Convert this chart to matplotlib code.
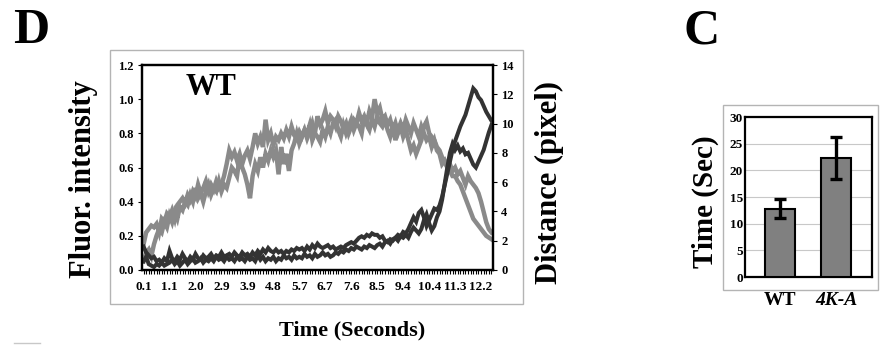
import matplotlib
matplotlib.use("Agg")
import matplotlib.pyplot as plt
from matplotlib.patches import Rectangle
from matplotlib.lines import Line2D
import numpy as np

# ---------------- data ----------------
time_labels = ["0.1", "1.1", "2.0", "2.9", "3.9", "4.8", "5.7", "6.7", "7.6",
               "8.5", "9.4", "10.4", "11.3", "12.2"]

fluor_1 = [0.15, 0.22, 0.24, 0.26, 0.25, 0.27, 0.22, 0.30, 0.28, 0.33,
           0.31, 0.35, 0.30, 0.38, 0.40, 0.42, 0.39, 0.44, 0.41, 0.46,
           0.43, 0.50, 0.45, 0.48, 0.52, 0.46, 0.50, 0.47, 0.52, 0.48,
           0.50, 0.55, 0.62, 0.70, 0.66, 0.69, 0.64, 0.68, 0.62, 0.67,
           0.70, 0.65, 0.72, 0.80, 0.74, 0.78, 0.72, 0.88, 0.76, 0.80,
           0.73, 0.78, 0.76, 0.80, 0.77, 0.82, 0.78, 0.84, 0.79, 0.77,
           0.81, 0.78, 0.82, 0.80, 0.85, 0.76, 0.80, 0.90, 0.85, 0.88,
           0.93, 0.86, 0.90, 0.88, 0.84, 0.90, 0.87, 0.83, 0.86, 0.80,
           0.84, 0.88, 0.86, 0.92, 0.87, 0.90, 0.86, 0.93, 0.89, 1.00,
           0.92, 0.95, 0.88, 0.90, 0.85, 0.88, 0.82, 0.86, 0.80, 0.84,
           0.78, 0.82, 0.76, 0.70, 0.73, 0.68, 0.72, 0.76, 0.84, 0.87,
           0.80, 0.78, 0.76, 0.72, 0.70, 0.66, 0.64, 0.60, 0.62, 0.58,
           0.60, 0.56, 0.58, 0.54, 0.50, 0.55, 0.52, 0.50, 0.48, 0.45,
           0.40, 0.34, 0.28, 0.24, 0.22]

fluor_2 = [0.05, 0.10, 0.12, 0.08, 0.15, 0.20, 0.24, 0.22, 0.28, 0.25,
           0.32, 0.28, 0.34, 0.30, 0.37, 0.35, 0.40, 0.38, 0.44, 0.40,
           0.48, 0.42, 0.45, 0.40, 0.46, 0.50, 0.44, 0.48, 0.46, 0.52,
           0.46, 0.50, 0.48, 0.54, 0.60, 0.58, 0.55, 0.66, 0.60, 0.56,
           0.50, 0.42, 0.55, 0.62, 0.58, 0.66, 0.60, 0.68, 0.64, 0.70,
           0.66, 0.70, 0.56, 0.72, 0.62, 0.68, 0.58, 0.70, 0.74, 0.80,
           0.74, 0.78, 0.82, 0.77, 0.81, 0.86, 0.80, 0.78, 0.75, 0.82,
           0.78, 0.84, 0.80, 0.86, 0.88, 0.82, 0.78, 0.85, 0.80, 0.84,
           0.88, 0.82, 0.86, 0.84, 0.80, 0.90, 0.85, 0.82, 0.88, 0.84,
           0.90, 0.86, 0.84, 0.88, 0.82, 0.78, 0.84, 0.76, 0.82, 0.86,
           0.82, 0.88, 0.84, 0.80, 0.86, 0.82, 0.78, 0.84, 0.80, 0.76,
           0.78, 0.72, 0.76, 0.70, 0.68, 0.62, 0.64, 0.60, 0.58, 0.55,
           0.55, 0.52, 0.50, 0.46, 0.42, 0.38, 0.34, 0.30, 0.28, 0.26,
           0.24, 0.22, 0.20, 0.19, 0.18]

dist_1 = [1.6, 1.2, 1.0, 0.8, 0.9, 0.6, 0.7, 0.5, 0.8, 0.6,
          1.3, 0.8, 0.6, 0.9, 0.7, 1.1, 0.8, 0.6, 0.9, 0.7,
          1.1, 0.8, 0.7, 1.0, 0.8, 0.9, 1.1, 0.8, 1.0, 0.9,
          1.2, 0.9, 1.0, 1.1, 0.9, 1.2, 1.0, 0.9, 1.2, 1.0,
          1.1, 0.9, 1.2, 1.0, 1.3, 1.1, 1.4, 1.2, 1.5, 1.3,
          1.2, 1.4, 1.2, 1.3, 1.1, 1.3, 1.2, 1.4, 1.3, 1.5,
          1.4, 1.5, 1.3, 1.6, 1.4, 1.7, 1.5, 1.8, 1.6, 1.5,
          1.6, 1.7, 1.5, 1.6, 1.4, 1.5, 1.6, 1.5, 1.7, 1.8,
          1.9, 1.8, 2.0, 2.2, 2.3, 2.2, 2.4, 2.3, 2.5, 2.4,
          2.4, 2.2, 2.3, 2.0, 1.9, 2.1, 2.0, 2.2, 2.4, 2.3,
          2.6, 2.5, 2.8, 3.2, 3.6, 3.3, 3.9, 4.1, 3.6, 3.0,
          3.4, 3.8, 4.2, 4.1, 4.4, 5.0, 5.8, 6.6, 7.4, 8.2,
          8.8, 9.3, 9.8, 10.2, 10.6, 11.2, 11.8, 12.4, 12.2, 11.8,
          11.6, 11.2, 10.8, 10.5, 10.2]

dist_2 = [0.6, 0.9, 0.4, 0.3, 0.2, 0.4, 0.3, 0.5, 0.3, 0.4,
          0.5, 0.7, 0.4, 0.6, 0.3, 0.5, 0.7, 0.4, 0.6, 0.8,
          0.5, 0.6, 0.8, 0.5, 0.7, 0.6, 0.8, 0.6, 0.9, 0.7,
          0.8, 0.6, 0.9, 0.7, 0.8, 0.6, 0.9, 0.7, 0.8, 0.6,
          0.9, 0.7, 0.8, 0.6, 1.0, 0.7, 0.9, 0.6, 0.8, 0.7,
          0.9, 0.6, 0.8, 0.7, 1.0, 0.8, 0.9, 0.7, 1.0, 0.8,
          0.9, 0.8, 1.1, 0.9, 1.0, 0.8, 1.1, 0.9, 1.0, 1.2,
          1.0, 1.1, 0.9, 1.0, 1.2, 1.1, 1.3, 1.2, 1.4, 1.3,
          1.5, 1.4, 1.6, 1.5, 1.4, 1.6, 1.5, 1.7, 1.6, 1.5,
          1.7, 1.8, 1.6, 1.9, 2.0, 1.8, 2.1, 2.2, 2.0, 2.3,
          2.2, 2.4, 2.2, 2.6, 2.9, 2.7, 2.5, 2.8, 3.4, 3.8,
          3.2, 2.7, 3.0, 3.6, 4.0, 4.8, 5.9, 7.0, 8.0, 8.6,
          8.2, 8.5, 8.1, 8.3, 7.9, 8.0, 7.6, 7.2, 7.0, 7.4,
          7.8, 8.2, 8.8, 9.4, 9.9]

bar_groups = ["WT", "4K-A"]
bar_values = [12.8, 22.3]
bar_errors = [1.8, 4.0]

# ---------------- figure ----------------
W, H = 884, 345
fig = plt.figure(figsize=(W / 100, H / 100), dpi=100)
plt.rcParams['font.family'] = ['Liberation Serif', 'DejaVu Serif']
plt.rcParams['font.weight'] = 'bold'


def fr(x0, y0, x1, y1):
    return [x0 / W, 1 - y1 / H, (x1 - x0) / W, (y1 - y0) / H]


# light gray frames
for (x0, y0, x1, y1) in [(110, 50, 523, 304), (723, 105, 878, 290)]:
    fig.add_artist(Rectangle((x0 / W, 1 - y1 / H), (x1 - x0) / W, (y1 - y0) / H,
                             transform=fig.transFigure, fill=False,
                             edgecolor='#b4b4b4', lw=1.0))
fig.add_artist(Line2D([14 / W, 40 / W], [1 - 343 / H, 1 - 343 / H],
                      transform=fig.transFigure, color='#c8c8c8', lw=1.0))

# ---------------- panel D ----------------
ax = fig.add_axes(fr(142, 65, 493, 270))
n = len(fluor_1)
x = np.arange(n)
gray = '#8a8a8a'
dark = '#333333'
ax.plot(x, fluor_1, color=gray, lw=3.2, solid_joinstyle='miter')
ax.plot(x, fluor_2, color=gray, lw=3.2, solid_joinstyle='miter')
ax.set_ylim(0, 1.2)
ax.set_xlim(-0.6, n - 0.4)
ax.set_yticks(np.arange(0, 1.21, 0.2))
ax.set_yticklabels([f"{v:.1f}" for v in np.arange(0, 1.21, 0.2)])
ax.set_xticks(np.arange(0, n, 10)[:len(time_labels)])
ax.set_xticklabels(time_labels)
ax.set_xticks(x, minor=True)
ax.tick_params(axis='x', which='both', direction='out', length=3, width=0.8,
               pad=5, labelsize=9.5)
ax.tick_params(axis='y', direction='out', length=3, width=0.8, pad=3,
               labelsize=9)
for s in ax.spines.values():
    s.set_linewidth(1.6)
ax.text(0.125, 0.96, "WT", transform=ax.transAxes, fontsize=22,
        fontweight='bold', va='top', ha='left')

ax2 = ax.twinx()
ax2.plot(x, dist_1, color=dark, lw=2.9, solid_joinstyle='miter')
ax2.plot(x, dist_2, color=dark, lw=2.9, solid_joinstyle='miter')
ax2.set_ylim(0, 14)
ax2.set_yticks(np.arange(0, 15, 2))
ax2.tick_params(axis='y', direction='out', length=3, width=0.8, pad=3,
                labelsize=9)
for s in ax2.spines.values():
    s.set_linewidth(1.6)

fig.text(83 / W, 1 - 179 / H, "Fluor. intensity", rotation=90, fontsize=22,
         fontweight='bold', ha='center', va='center')
fig.text(549 / W, 1 - 183 / H, "Distance (pixel)", rotation=90, fontsize=22,
         fontweight='bold', ha='center', va='center')
fig.text(352 / W, 1 - 330 / H, "Time (Seconds)", fontsize=16,
         fontweight='bold', ha='center', va='center')
fig.text(13 / W, 1 - 43 / H, "D", fontsize=36, fontweight='bold',
         ha='left', va='baseline')

# ---------------- panel C ----------------
bx = fig.add_axes(fr(745, 117, 872, 277))
pos = np.arange(len(bar_groups))
bx.bar(pos, bar_values, width=0.52, color='#808080', edgecolor='black',
       linewidth=1.5, zorder=3)
bx.errorbar(pos, bar_values, yerr=bar_errors, fmt='none', ecolor='black',
            elinewidth=2.4, capsize=4, capthick=2.4, zorder=4)
bx.set_ylim(0, 30)
bx.set_xlim(-0.625, 1.643)
bx.set_yticks(np.arange(0, 31, 5))
bx.yaxis.grid(True, color='#c8c8c8', lw=0.8, zorder=0)
bx.set_axisbelow(True)
bx.tick_params(axis='y', length=0, pad=1.5, labelsize=9.5)
bx.set_xticks(pos)
bx.set_xticklabels(bar_groups)
bx.tick_params(axis='x', length=0, pad=11, labelsize=14)
bx.get_xticklabels()[1].set_fontstyle('italic')
for s in bx.spines.values():
    s.set_linewidth(1.6)

fig.text(705 / W, 1 - 202 / H, "Time (Sec)", rotation=90, fontsize=21,
         fontweight='bold', ha='center', va='center')
fig.text(684 / W, 1 - 43 / H, "C", fontsize=36, fontweight='bold',
         ha='left', va='baseline')

fig.savefig("out.png", dpi=100)
